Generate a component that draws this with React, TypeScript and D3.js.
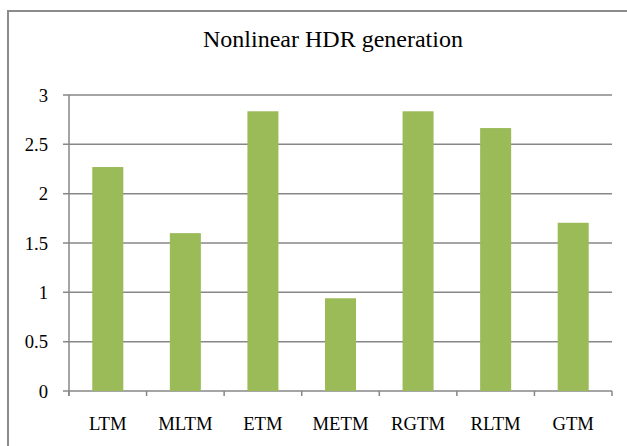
import * as d3 from "d3";
import { useRef, useEffect } from "react";

const categories = ["LTM", "MLTM", "ETM", "METM", "RGTM", "RLTM", "GTM"];
const values = [2.27, 1.6, 2.835, 0.94, 2.835, 2.665, 1.705];
const yTicks = [0, 0.5, 1, 1.5, 2, 2.5, 3];
const title = "Nonlinear HDR generation";

const width = 627;
const height = 446;
const marginLeft = 69;
const marginRight = 15;
const marginTop = 95;
const marginBottom = 55;

const gridColor = "#878787";
const barColor = "#9BBB59";
const font = "Liberation Serif";

export default function App() {
  const gx = useRef<SVGGElement>(null);
  const gy = useRef<SVGGElement>(null);

  const x = d3
    .scaleBand()
    .domain(categories)
    .range([marginLeft, width - marginRight])
    .paddingInner(0.6)
    .paddingOuter(0.3);

  const y = d3
    .scaleLinear()
    .domain([0, 3])
    .range([height - marginBottom, marginTop]);

  useEffect(() => {
    const g = d3.select(gy.current);
    g.selectAll("*").remove();
    g.selectAll("line.grid")
      .data(yTicks)
      .join("line")
      .attr("class", "grid")
      .attr("x1", marginLeft - 6)
      .attr("x2", width - marginRight)
      .attr("y1", (d) => y(d))
      .attr("y2", (d) => y(d))
      .attr("stroke", gridColor)
      .attr("stroke-width", 1.5);
    g.selectAll("text")
      .data(yTicks)
      .join("text")
      .attr("x", 48)
      .attr("y", (d) => y(d))
      .attr("dy", "0.35em")
      .attr("text-anchor", "end")
      .style("font-family", font)
      .attr("font-size", 18.67)
      .attr("fill", "#000")
      .text((d) => String(d));
    g.append("line")
      .attr("x1", marginLeft)
      .attr("x2", marginLeft)
      .attr("y1", y(3))
      .attr("y2", y(0) + 5)
      .attr("stroke", gridColor)
      .attr("stroke-width", 1.5);
  }, []);

  useEffect(() => {
    const g = d3.select(gx.current);
    g.selectAll("*").remove();
    const step = x.step();
    const bounds = categories.map((c) => (x(c) as number) - (step - x.bandwidth()) / 2);
    bounds.push(width - marginRight);
    g.selectAll("line")
      .data(bounds)
      .join("line")
      .attr("x1", (d) => d)
      .attr("x2", (d) => d)
      .attr("y1", y(0))
      .attr("y2", y(0) + 5)
      .attr("stroke", gridColor)
      .attr("stroke-width", 1.5);
    g.selectAll("text")
      .data(categories)
      .join("text")
      .attr("x", (d) => (x(d) as number) + x.bandwidth() / 2)
      .attr("y", 430)
      .attr("text-anchor", "middle")
      .style("font-family", font)
      .attr("font-size", 18.67)
      .attr("fill", "#000")
      .text((d) => d);
  }, []);

  return (
    <svg
      width={width}
      height={height}
      style={{ position: "absolute", left: 0, top: 0, background: "#fff" }}
    >
      <rect
        x={8}
        y={11}
        width={width + 20}
        height={height + 20}
        fill="#fff"
        stroke="#8c8c8c"
        strokeWidth={2}
      />
      <text
        x={333}
        y={47}
        textAnchor="middle"
        style={{ fontFamily: font }}
        fontSize={24}
        fill="#000"
      >
        {title}
      </text>
      <g ref={gy} />
      <g>
        {categories.map((c, i) => (
          <rect
            key={c}
            x={x(c)}
            y={y(values[i])}
            width={x.bandwidth()}
            height={y(0) - y(values[i])}
            fill={barColor}
          />
        ))}
      </g>
      <g ref={gx} />
    </svg>
  );
}
